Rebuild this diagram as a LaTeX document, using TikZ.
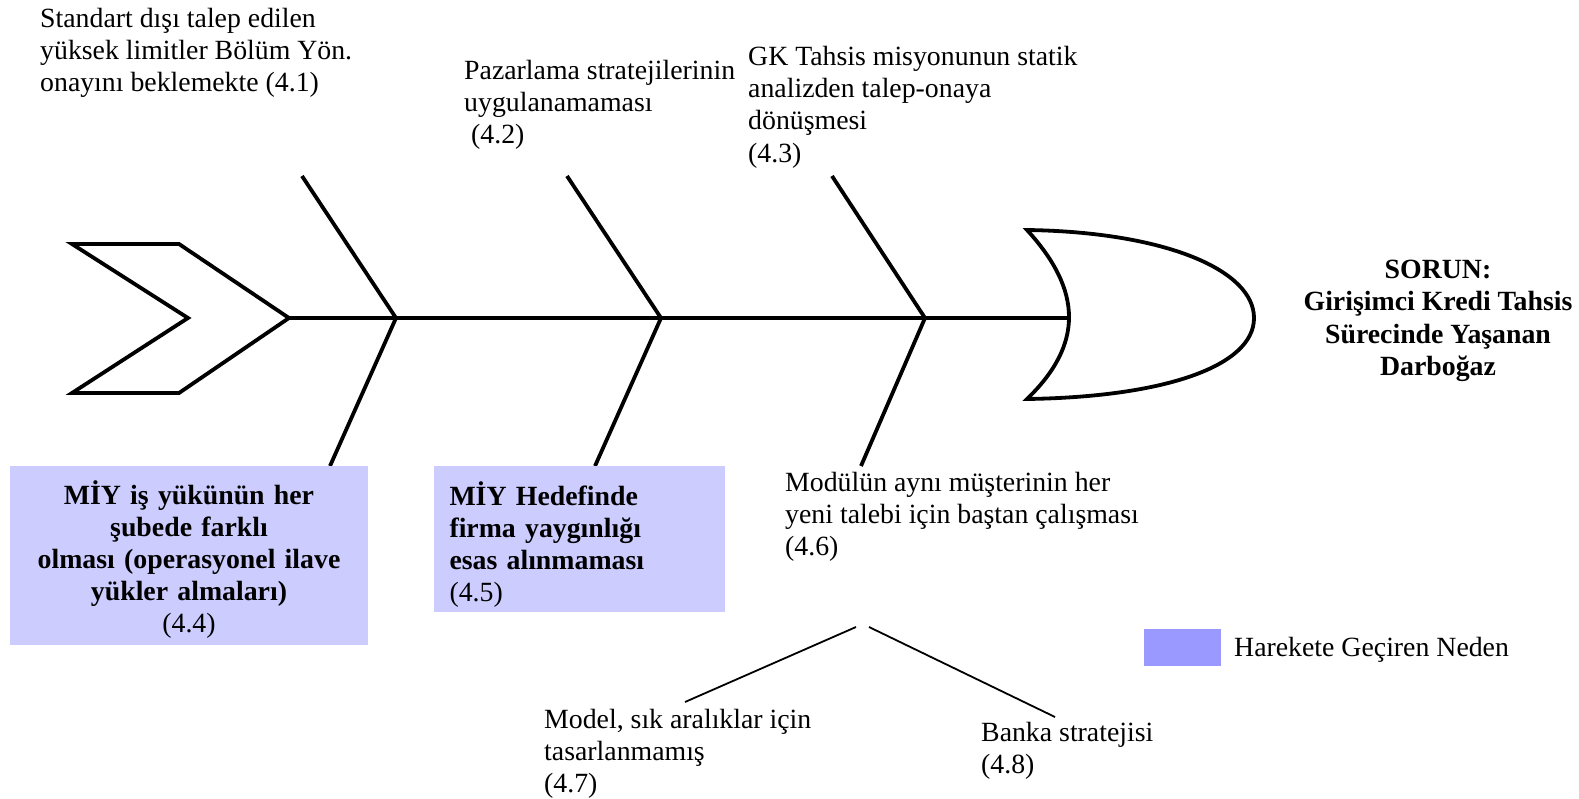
\documentclass[tikz,border=0pt]{standalone}
\usepackage{fontspec}
\setmainfont{Liberation Serif}
\usetikzlibrary{positioning}
\definecolor{boxblue}{RGB}{204,204,255}
\definecolor{keyblue}{RGB}{153,153,255}
\tikzstyle{bone} = [line width=3.8pt]
\tikzstyle{twig} = [line width=1.8pt]
\tikzstyle{cause} = [align=left, anchor=north west, inner sep=0pt]
\tikzstyle{driver} = [fill=boxblue, inner sep=0pt]
\tikzstyle{drivertext} = [inner sep=0pt, font=\fontsize{27.8}{32.2}\selectfont\bfseries]

\begin{document}
\begin{tikzpicture}[x=1pt, y=-1pt, line join=miter, every node/.style={font=\fontsize{27.8}{32.2}\selectfont}]
    \useasboundingbox (0,0) rectangle (1579,799);
    \coordinate (tail) at (289,318);
    \coordinate (j1) at (396,318);
    \coordinate (j2) at (661,318);
    \coordinate (j3) at (925,318);
    \coordinate (head) at (1069,318);
    \coordinate (u1) at (302,176);
    \coordinate (u2) at (567,176);
    \coordinate (u3) at (832,176);
    \coordinate (l1) at (330,466);
    \coordinate (l2) at (595,466);
    \coordinate (l3) at (861,466);
    \coordinate (fork) at (862,627);
    \coordinate (t7) at (685,702);
    \coordinate (t8) at (1055,717);
    % tail and head of the fish
    \draw [bone] (72,244) -- (179,244) -- (tail) -- (179,393) -- (72,393) -- (188,318) -- cycle;
    \draw [bone] (1027,230) .. controls (1165,232) and (1254,270) .. (1254,318)
        .. controls (1254,366) and (1165,397) .. (1027,399)
        .. controls (1083,345) and (1083,291) .. cycle;
    \draw [bone] (tail) -- (head);
    \draw [bone] (u1) -- (j1);
    \draw [bone] (u2) -- (j2);
    \draw [bone] (u3) -- (j3);
    \draw [bone] (j1) -- (l1);
    \draw [bone] (j2) -- (l2);
    \draw [bone] (j3) -- (l3);
    \draw [twig] ([xshift=-6pt]fork) -- (t7);
    \draw [twig] ([xshift=7pt]fork) -- (t8);
    \node [cause] (c41) at (40,8) {Standart dışı talep edilen\\yüksek limitler Bölüm Yön.\\onayını beklemekte (4.1)};
    \node [cause] (c42) at (464,60) {Pazarlama stratejilerinin\\uygulanamaması\\\hspace*{0.25em}(4.2)};
    \node [cause] (c43) at (748,46) {GK Tahsis misyonunun statik\\analizden talep-onaya\\dönüşmesi\\(4.3)};
    \node [driver, minimum width=358pt, minimum height=179pt] (b44) at (189,555.5) {};
    \node [drivertext, text width=345pt, align=center] (c44) at ([yshift=-4pt]b44.center)
        {MİY iş yükünün her\\şubede farklı\\olması (operasyonel ilave\\yükler almaları)\\\mdseries (4.4)};
    \node [driver, minimum width=291pt, minimum height=146pt] (b45) at (579.5,539) {};
    \node [drivertext, text width=260pt, align=left] (c45) at ([yshift=-5.5pt]b45.center)
        {MİY Hedefinde\\firma yaygınlığı\\esas alınmaması\\\mdseries (4.5)};
    \node [cause] (c46) at (785,472) {Modülün aynı müşterinin her\\yeni talebi için baştan çalışması\\(4.6)};
    \node [cause] (c47) at (544,709) {Model, sık aralıklar için\\tasarlanmamış\\(4.7)};
    \node [cause] (c48) at (981,722) {Banka stratejisi\\(4.8)};
    \node [align=center, anchor=north, inner sep=0pt, font=\fontsize{27.8}{32.2}\selectfont\bfseries] (problem) at (1438,260)
        {SORUN:\\Girişimci Kredi Tahsis\\Sürecinde Yaşanan\\Darboğaz};
    \node [fill=keyblue, minimum width=77pt, minimum height=37pt, inner sep=0pt] (key) at (1182.5,647.5) {};
    \node [anchor=west, inner sep=0pt] (keytext) at (1234,650) {Harekete Geçiren Neden};
\end{tikzpicture}
\end{document}
